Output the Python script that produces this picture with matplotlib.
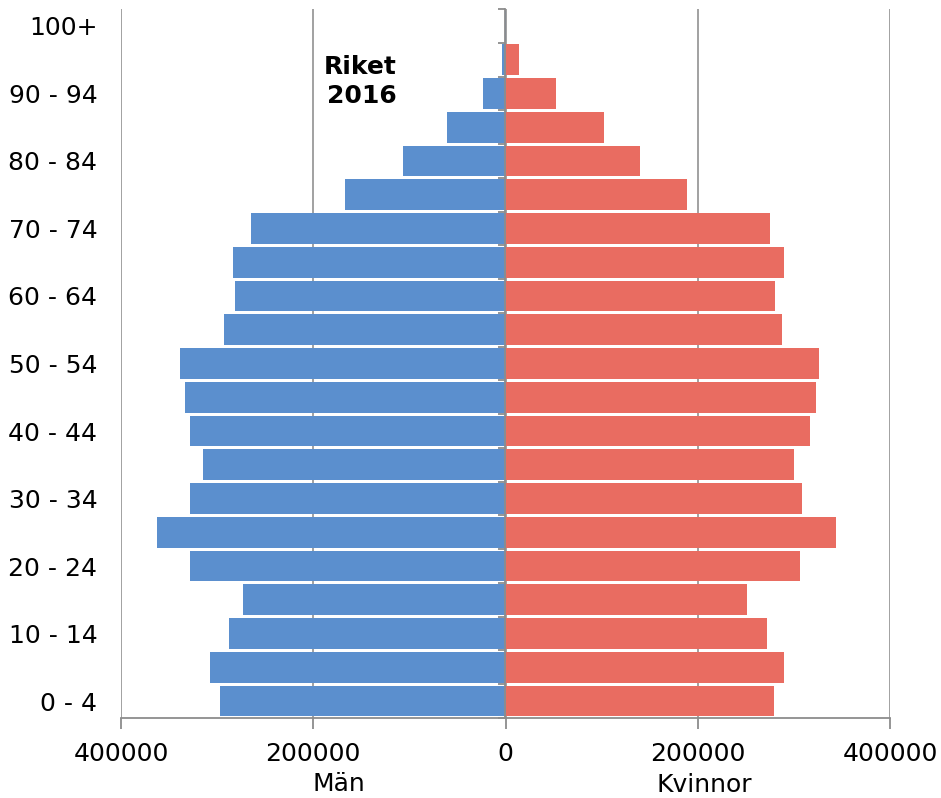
import numpy as np
import matplotlib.pyplot as plt
from matplotlib.ticker import FuncFormatter, FixedLocator

# Befolkning per åldersgrupp, riket 2016
age_groups = ['0 - 4', '5 - 9', '10 - 14', '15 - 19', '20 - 24', '25 - 29',
              '30 - 34', '35 - 39', '40 - 44', '45 - 49', '50 - 54', '55 - 59',
              '60 - 64', '65 - 69', '70 - 74', '75 - 79', '80 - 84', '85 - 89',
              '90 - 94', '95 - 99', '100+']
men = [296900, 307000, 287500, 273200, 328500, 362800, 328500, 314200,
       328500, 333300, 338200, 292400, 280900, 283000, 264900, 167300,
       107000, 61300, 23900, 3800, 200]
women = [279500, 289900, 272500, 251400, 306800, 344200, 308900, 300300,
         317200, 323500, 326600, 287800, 280500, 290200, 275300, 189100,
         140300, 102900, 53000, 14500, 800]
x_ticks = [-400000, -200000, 0, 200000, 400000]

blue = '#5b8fce'
red = '#e96c61'
axis_grey = '#8c8c8c'
fs = 18

fig = plt.figure(figsize=(9.41, 7.98), dpi=100)
ax = fig.add_axes([121 / 941, 80 / 798, 769 / 941, 709 / 798])

y = np.arange(len(age_groups))
ax.barh(y, -np.array(men), height=0.91, color=blue, zorder=2)
ax.barh(y, women, height=0.91, color=red, zorder=2)

ax.set_xlim(-400000, 400000)
ax.set_ylim(-0.5, len(age_groups) - 0.5)

# vertical gridlines, drawn behind the bars
ax.set_xticks(x_ticks)
ax.grid(axis='x', color='#9a9a9a', linewidth=1.3, zorder=0)
ax.set_axisbelow(True)
ax.xaxis.set_major_formatter(FuncFormatter(lambda v, p: f'{abs(int(v))}'))
ax.tick_params(axis='x', length=8, width=1.3, color=axis_grey, pad=9,
               labelsize=fs)

for s in ['left', 'right', 'top']:
    ax.spines[s].set_visible(False)
ax.spines['bottom'].set_color(axis_grey)
ax.spines['bottom'].set_linewidth(1.3)

# age labels on every second group
ax.set_yticks(y[::2])
ax.set_yticklabels(age_groups[::2])
ax.tick_params(axis='y', length=0, pad=17, labelsize=fs)

# centre axis with ticks between the groups
ax2 = ax.twinx()
ax2.set_ylim(ax.get_ylim())
for s in ['left', 'top', 'bottom']:
    ax2.spines[s].set_visible(False)
ax2.spines['right'].set_position(('data', 0))
ax2.spines['right'].set_color(axis_grey)
ax2.spines['right'].set_linewidth(1.3)
ax2.yaxis.set_major_locator(FixedLocator(np.arange(-0.5, len(age_groups), 1)))
ax2.set_yticklabels([])
ax2.tick_params(axis='y', direction='in', length=5, width=1.3, color=axis_grey)

ax.text(0.359, 0.898, 'Riket\n2016', transform=ax.transAxes, ha='right',
        va='center', multialignment='right', fontsize=fs, fontweight='bold',
        linespacing=1.25)

fig.text(339 / 941, 1 - 784 / 798, 'Män', ha='center', va='center', fontsize=fs)
fig.text(704 / 941, 1 - 785 / 798, 'Kvinnor', ha='center', va='center', fontsize=fs)

fig.savefig('out.png', dpi=100)
